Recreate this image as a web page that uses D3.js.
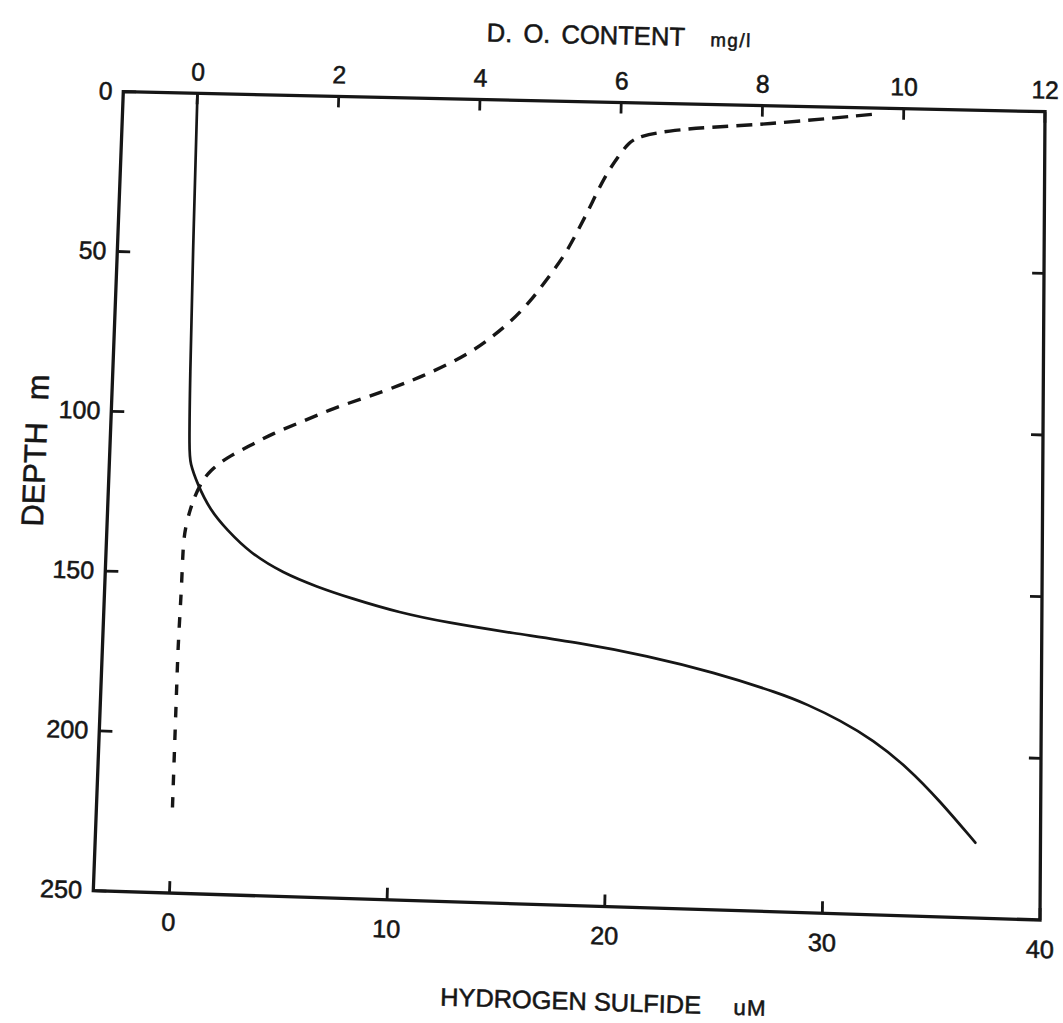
<!DOCTYPE html>
<html>
<head>
<meta charset="utf-8">
<script src="https://cdn.jsdelivr.net/npm/d3@7"></script>
<style>
  html, body { margin: 0; padding: 0; background: #fff; overflow: hidden; }
  svg { display: block; }
  text { font-family: "Liberation Sans", Arial, Helvetica, sans-serif; fill: #161616; stroke: #161616; stroke-width: 0.55; }
</style>
</head>
<body>
<svg id="chart" width="1063" height="1023"></svg>
<script>
// Hydrogen sulfide profile: depth (m) and concentration (uM), bottom axis
const h2sDepth = [0, 50, 90, 112, 115.5, 121.7, 130, 136.1, 143.1, 149.1, 153.1, 156.3, 160.5, 163.1, 165.85, 168.3, 171.7, 176.2, 182.2, 185.35, 190.0, 195.8, 203.9, 214.1, 226.7];
const h2sValue = [0, 0.05, 0.12, 0.2, 0.26, 0.61, 1.26, 2.08, 3.19, 4.75, 6.35, 7.89, 10.23, 12.42, 15.49, 18.6, 21.72, 24.79, 27.9, 29.16, 30.7, 32.23, 33.82, 35.35, 37.0];

// Dissolved oxygen profile: depth (m) and content (mg/l), top axis
const doDepth = [2, 6, 7, 8.5, 10.3, 12.5, 17.3, 22, 28.3, 34.6, 40.9, 47.8, 55.1, 62.8, 69.2, 74.3, 78.9, 82.9, 86.5, 89.6, 93.6, 97.3, 102, 105.6, 109.6, 113.5, 117.7, 121.9, 128.2, 135.8, 142, 152.4, 162.7, 173.3, 182.7, 202.5, 226.6];
const doValue = [9.55, 7.97, 7.26, 6.66, 6.27, 6.11, 5.96, 5.82, 5.68, 5.55, 5.41, 5.25, 5.02, 4.77, 4.5, 4.23, 3.95, 3.63, 3.3, 2.98, 2.52, 2.05, 1.6, 1.22, 0.91, 0.59, 0.36, 0.23, 0.12, 0.04, 0.02, 0.02, 0.01, 0, 0, 0, 0];

// Tick values
const depthTicks = [0, 50, 100, 150, 200, 250];
const depthMinorTicks = [50, 100, 150, 200];
const h2sTicks = [0, 10, 20, 30, 40];
const doTicks = [0, 2, 4, 6, 8, 10, 12];

// Plot rectangle in drawing coordinates
const frame = { left: 108, right: 1043, top: 102, bottom: 905 };
// The printed sheet is slightly askew: corners of the plot box on the page
const sheet = { tl: [123.3, 91.7], tr: [1045, 111.7], br: [1040, 920], bl: [93.3, 890.7] };

const fw = frame.right - frame.left, fh = frame.bottom - frame.top;

// Bilinear map from drawing coordinates onto the askew sheet
function warp(x, y) {
  const u = (x - frame.left) / fw, v = (y - frame.top) / fh;
  const k = i => (1 - u) * (1 - v) * sheet.tl[i] + u * (1 - v) * sheet.tr[i] + u * v * sheet.br[i] + (1 - u) * v * sheet.bl[i];
  return [k(0), k(1)];
}
// Local affine frame of the map, used for ticks and labels
function localMatrix(x, y) {
  const u = (x - frame.left) / fw, v = (y - frame.top) / fh;
  const du = i => ((1 - v) * (sheet.tr[i] - sheet.tl[i]) + v * (sheet.br[i] - sheet.bl[i])) / fw;
  const dv = i => ((1 - u) * (sheet.bl[i] - sheet.tl[i]) + u * (sheet.br[i] - sheet.tr[i])) / fh;
  const [wx, wy] = warp(x, y);
  return `matrix(${du(0)},${du(1)},${dv(0)},${dv(1)},${wx},${wy})`;
}

const svg = d3.select("#chart");

const y = d3.scaleLinear().domain([0, 250]).range([frame.top, frame.bottom]);
const xH2S = d3.scaleLinear().domain([-3.5, 40]).range([frame.left, frame.right]);
const xDO = d3.scaleLinear().domain([-1.05, 12]).range([frame.left, frame.right]);

const ink = "#161616";
const fontSize = 25;

function styleAxis(g) {
  g.select(".domain").remove();
  g.selectAll(".tick line").attr("stroke", ink).attr("stroke-width", 2.8);
  g.selectAll(".tick text").attr("font-size", fontSize).attr("fill", ink)
    .attr("font-family", '"Liberation Sans", Arial, sans-serif');
}

// Bottom axis: hydrogen sulfide
svg.append("g")
  .call(d3.axisBottom(xH2S).tickValues(h2sTicks).tickSize(-12).tickPadding(20).tickFormat(d3.format("d")))
  .call(styleAxis)
  .selectAll(".tick").attr("transform", d => localMatrix(xH2S(d), frame.bottom));

// Top axis: dissolved oxygen
svg.append("g")
  .call(d3.axisTop(xDO).tickValues(doTicks).tickSize(-11).tickPadding(13).tickFormat(d3.format("d")))
  .call(styleAxis)
  .selectAll(".tick").attr("transform", d => localMatrix(xDO(d), frame.top));

// Left axis: depth
svg.append("g")
  .call(d3.axisLeft(y).tickValues(depthTicks).tickSize(-13).tickPadding(11).tickFormat(d3.format("d")))
  .call(styleAxis)
  .selectAll(".tick").attr("transform", d => localMatrix(frame.left, y(d)));

// Right axis: depth ticks only
svg.append("g")
  .call(d3.axisRight(y).tickValues(depthMinorTicks).tickSize(-12).tickFormat(""))
  .call(styleAxis)
  .selectAll(".tick").attr("transform", d => localMatrix(frame.right, y(d)));

// Plot frame
const framePts = [[frame.left, frame.top], [frame.right, frame.top], [frame.right, frame.bottom], [frame.left, frame.bottom]]
  .map(p => warp(p[0], p[1]));
svg.append("path")
  .attr("d", d3.line()(framePts) + "Z")
  .attr("fill", "none").attr("stroke", ink).attr("stroke-width", 3.3)
  .attr("stroke-linejoin", "miter");

// Profiles
const h2sData = h2sDepth.map((d, i) => ({ depth: d, v: h2sValue[i] }));
const doData = doDepth.map((d, i) => ({ depth: d, v: doValue[i] }));

function profileLine(xScale) {
  const pt = d => warp(xScale(d.v), y(d.depth));
  return d3.line().x(d => pt(d)[0]).y(d => pt(d)[1]).curve(d3.curveBasis);
}

svg.append("path").datum(h2sData)
  .attr("d", profileLine(xH2S))
  .attr("fill", "none").attr("stroke", ink).attr("stroke-width", 2.7)
  .attr("stroke-linecap", "round");

const doPath = svg.append("path").datum(doData)
  .attr("d", profileLine(xDO))
  .attr("fill", "none").attr("stroke", ink).attr("stroke-width", 3.4);

// Hand-ruled dashes: longer near the surface, shorter along the deep tail
const doLength = doPath.node().getTotalLength();
const dashes = [];
for (let pos = 0; pos < doLength; ) {
  const t = pos / doLength;
  const dash = t < 0.2 ? 16 : t < 0.72 ? 13.5 : 10.5;
  const gap = t < 0.2 ? 8 : t < 0.72 ? 9.5 : 12;
  dashes.push(dash, gap);
  pos += dash + gap;
}
doPath.attr("stroke-dasharray", dashes.join(","));

// Axis titles
const topTitle = svg.append("g").attr("transform", localMatrix(475, 44))
  .append("text").attr("text-anchor", "start");
topTitle.append("tspan").attr("font-size", 26).attr("word-spacing", 4).text("D. O. CONTENT");
topTitle.append("tspan").attr("font-size", 19).attr("letter-spacing", 1.5).attr("dx", 26).text("mg/l");

const bottomTitle = svg.append("g").attr("transform", localMatrix(453, 1009))
  .append("text").attr("text-anchor", "start");
bottomTitle.append("tspan").attr("font-size", 25).text("HYDROGEN SULFIDE");
bottomTitle.append("tspan").attr("font-size", 22).attr("letter-spacing", 1).attr("dx", 32).text("uM");

const sideTitle = svg.append("g").attr("transform", localMatrix(44, 541))
  .append("text").attr("transform", "rotate(-90)").attr("text-anchor", "start");
sideTitle.append("tspan").attr("font-size", 31).text("DEPTH");
sideTitle.append("tspan").attr("font-size", 31).attr("dx", 22).text("m");
</script>
</body>
</html>
